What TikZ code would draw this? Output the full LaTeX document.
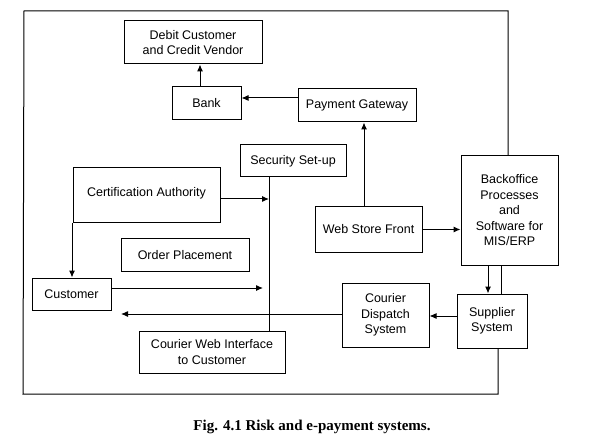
\documentclass[tikz,border=0pt]{standalone}
\usepackage{fontspec}
\setmainfont{Liberation Sans}
\newfontfamily\capfont{Liberation Serif}
\usetikzlibrary{arrows.meta}
\tikzset{
  box/.style={draw, line width=1pt, align=center, inner sep=0pt,
    font=\fontsize{12.5}{15.5}\selectfont},
  arr/.style={line width=1pt, -{Latex[length=7pt,width=6pt]}},
  ln/.style={line width=1pt}
}
\begin{document}
\begin{tikzpicture}[x=1pt,y=-1pt]
\useasboundingbox (0,0) rectangle (591,446);
% nodes
\node[box, minimum width=138pt, minimum height=43pt] (debit) at (193,42.5) {Debit Customer\\and Credit Vendor};
\node[box, minimum width=69pt, minimum height=33pt] (bank) at (206.5,103.5) {Bank};
\node[box, minimum width=118pt, minimum height=33pt] (pg) at (357,105.5) {Payment Gateway};
\node[box, minimum width=106pt, minimum height=32pt] (sec) at (293,161) {Security Set-up};
\node[box, minimum width=147pt, minimum height=55pt, text depth=8pt] (ca) at (146.5,195.5) {Certification Authority};
\node[box, minimum width=128pt, minimum height=32pt] (order) at (185,255) {Order Placement};
\node[box, minimum width=79pt, minimum height=32pt] (cust) at (71.5,294) {Customer};
\node[box, minimum width=146pt, minimum height=42pt] (cwi) at (212,352) {Courier Web Interface\\to Customer};
\node[box, minimum width=107pt, minimum height=45pt] (wsf) at (368.5,229.5) {Web Store Front};
\node[box, minimum width=87pt, minimum height=64pt] (cds) at (385.5,315) {Courier\\Dispatch\\System};
\node[box, minimum width=70pt, minimum height=54pt] (sup) at (492,321) {Supplier\\System};
\node[box, minimum width=97pt, minimum height=109pt] (back) at (509.5,210.5) {Backoffice\\Processes\\and\\Software for\\MIS/ERP};
\node[font=\capfont\bfseries\fontsize{15}{18}\selectfont] (cap) at (312,427) {Fig. 4.1 Risk and e-payment systems.};
% helper coordinates
\coordinate (busx) at (269,0);
\coordinate (tl) at (24,11);
\coordinate (bl) at (23,394);
\coordinate (custin) at (121,314);
% frame
\draw[ln] ([xshift=-1.5pt]back.north) |- (tl) -- (bl) -| ([xshift=6pt]sup.south);
% connectors
\draw[arr] ([xshift=-6.5pt]bank.north) -- ([xshift=-6.5pt]bank.north |- debit.south);
\draw[arr] ([yshift=7.5pt]pg.west) -- ([yshift=7.5pt]pg.west -| bank.east);
\draw[arr] ([xshift=-4.5pt]wsf.north) -- ([xshift=-4.5pt]wsf.north |- pg.south);
\draw[arr] (wsf.east) -- (wsf.east -| back.west);
\draw[ln] (sec.south -| busx) -- (cwi.north -| busx);
\draw[arr] ([yshift=-3.5pt]ca.east) -- ([yshift=-3.5pt]ca.east -| busx);
\draw[arr] ([xshift=-0.5pt]ca.south west) -- ([xshift=-0.5pt]ca.south west |- cust.north);
\draw[arr] ([yshift=6pt]cust.east) -- ([xshift=-6pt,yshift=6pt]cust.east -| busx);
\draw[arr] (cds.west |- custin) -- (custin);
\draw[arr] ([yshift=5pt]sup.west) -- ([yshift=5pt]sup.west -| cds.east);
\draw[arr] ([xshift=-21.5pt]back.south) -- ([xshift=-21.5pt]back.south |- sup.north);
\draw[ln] ([xshift=-8.5pt]back.south) -- ([xshift=-8.5pt]back.south |- sup.north);
\end{tikzpicture}
\end{document}
